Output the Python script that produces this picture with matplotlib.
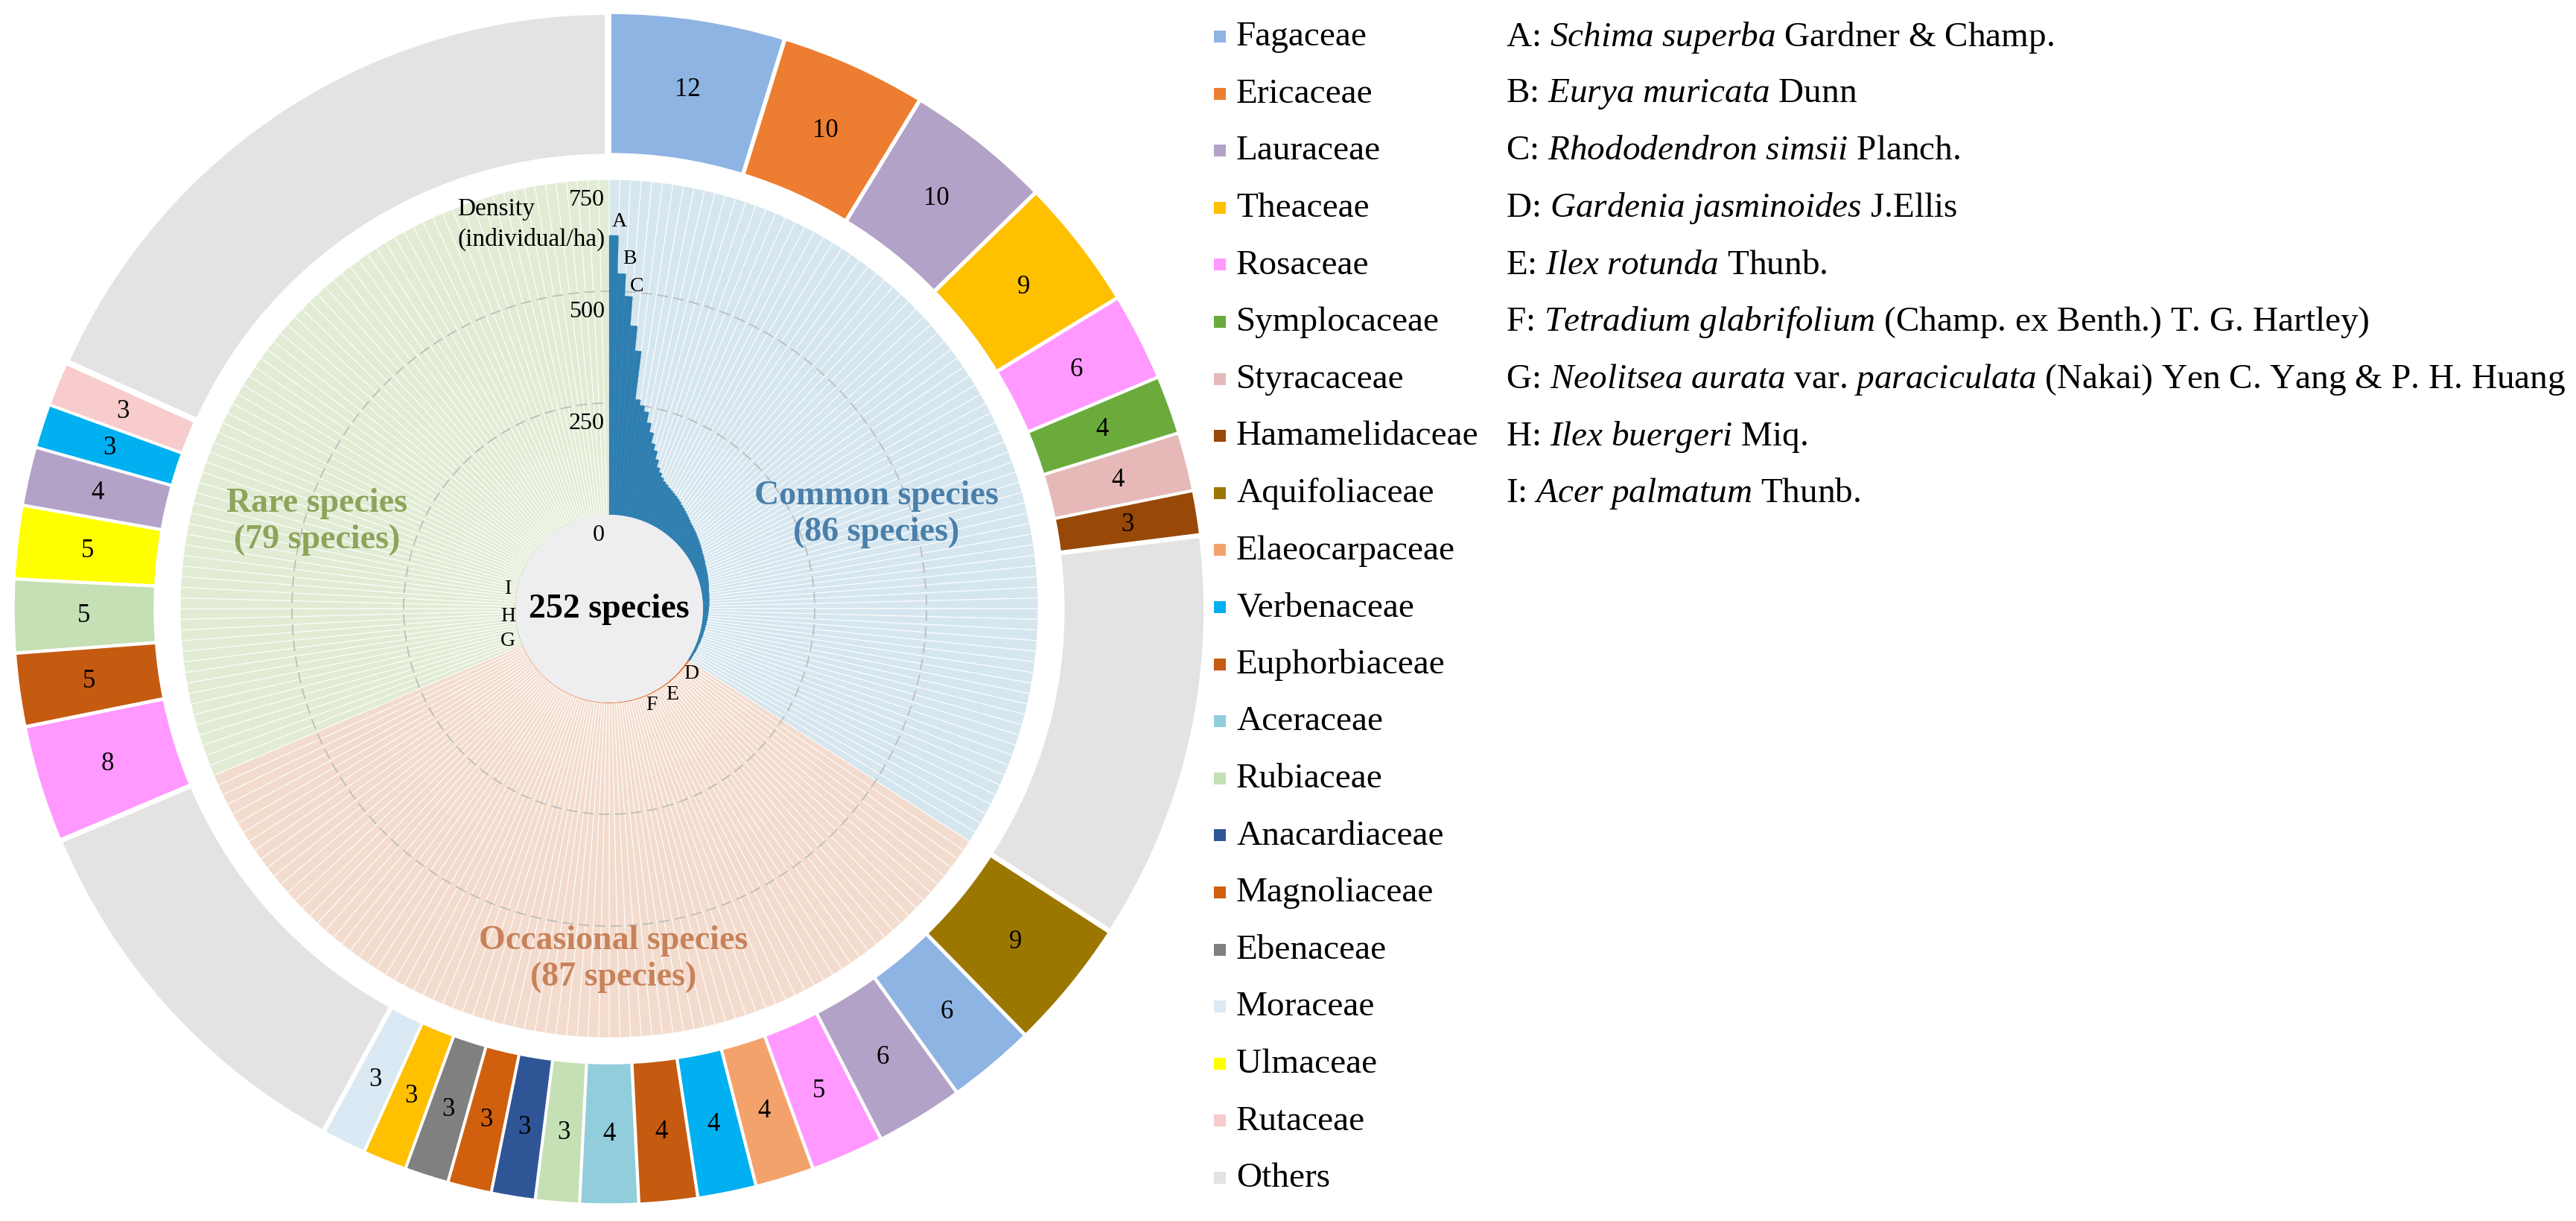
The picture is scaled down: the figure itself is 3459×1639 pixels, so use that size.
import numpy as np
import matplotlib
matplotlib.use('Agg')
from matplotlib import pyplot as plt
from matplotlib.patches import Circle
import matplotlib.transforms as mtransforms

plt.rcParams['font.family'] = 'Liberation Serif'
plt.rcParams['mathtext.fontset'] = 'custom'
plt.rcParams['mathtext.rm'] = 'Liberation Serif'
plt.rcParams['mathtext.it'] = 'Liberation Serif:italic'

# species density (individual/ha), sorted, clockwise from the top
common_density = [625, 540, 490, 425, 370, 262, 250, 238, 215, 195,
                  172, 158, 140, 124, 115, 106, 100, 96, 92, 89,
                  86, 83, 80, 77, 73, 70, 67, 64, 61, 58,
                  55, 53, 51, 49, 47, 45, 43, 41, 39, 37,
                  35, 33, 32, 30, 29, 27, 26, 25, 24, 23,
                  22, 21, 20, 19, 18, 17, 16, 16, 15, 15,
                  14, 14, 13, 13, 12, 12, 11, 11, 10, 10,
                  9, 9, 8, 8, 8, 7, 7, 7, 6, 6,
                  6, 6, 5, 5, 5, 5]
occasional_density = [3.9, 3.8, 3.6, 3.5, 3.4, 3.3, 3.2, 3.1, 3.0, 2.9,
                      2.9, 2.8, 2.7, 2.7, 2.6, 2.5, 2.5, 2.4, 2.4, 2.3,
                      2.3, 2.2, 2.2, 2.1, 2.1, 2.0, 2.0, 2.0, 1.9, 1.9,
                      1.9, 1.8, 1.8, 1.8, 1.7, 1.7, 1.7, 1.6, 1.6, 1.6,
                      1.6, 1.5, 1.5, 1.5, 1.5, 1.4, 1.4, 1.4, 1.4, 1.4,
                      1.3, 1.3, 1.3, 1.3, 1.3, 1.2, 1.2, 1.2, 1.2, 1.2,
                      1.2, 1.1, 1.1, 1.1, 1.1, 1.1, 1.1, 1.1, 1.1, 1.0,
                      1.0, 1.0, 1.0, 1.0, 1.0, 1.0, 1.0, 1.0, 1.0, 1.0,
                      1.0, 1.0, 1.0, 1.0, 1.0, 1.0, 1.0]
rare_density = [0.9, 0.9, 0.9, 0.9, 0.9, 0.9, 0.8, 0.8, 0.8, 0.8,
                0.8, 0.8, 0.8, 0.8, 0.7, 0.7, 0.7, 0.7, 0.7, 0.7,
                0.7, 0.7, 0.7, 0.7, 0.6, 0.6, 0.6, 0.6, 0.6, 0.6,
                0.6, 0.6, 0.6, 0.6, 0.6, 0.5, 0.5, 0.5, 0.5, 0.5,
                0.5, 0.5, 0.5, 0.5, 0.5, 0.5, 0.5, 0.4, 0.4, 0.4,
                0.4, 0.4, 0.4, 0.4, 0.4, 0.4, 0.4, 0.4, 0.4, 0.4,
                0.4, 0.4, 0.4, 0.4, 0.4, 0.3, 0.3, 0.3, 0.3, 0.3,
                0.3, 0.3, 0.3, 0.3, 0.3, 0.3, 0.3, 0.3, 0.3]

# outer ring: number of species per family within each group
ring_families = ['Fagaceae', 'Ericaceae', 'Lauraceae', 'Theaceae', 'Rosaceae',
                 'Symplocaceae', 'Styracaceae', 'Hamamelidaceae', 'Others',
                 'Aquifoliaceae', 'Fagaceae', 'Lauraceae', 'Rosaceae', 'Elaeocarpaceae',
                 'Verbenaceae', 'Euphorbiaceae', 'Aceraceae', 'Rubiaceae', 'Anacardiaceae',
                 'Magnoliaceae', 'Ebenaceae', 'Theaceae', 'Moraceae', 'Others',
                 'Rosaceae', 'Euphorbiaceae', 'Rubiaceae', 'Ulmaceae', 'Lauraceae',
                 'Verbenaceae', 'Rutaceae', 'Others']
ring_counts = [12, 10, 10, 9, 6, 4, 4, 3, 28,
               9, 6, 6, 5, 4, 4, 4, 4, 3, 3, 3, 3, 3, 3, 27,
               8, 5, 5, 5, 4, 3, 3, 46]

legend_families = ['Fagaceae', 'Ericaceae', 'Lauraceae', 'Theaceae', 'Rosaceae',
                   'Symplocaceae', 'Styracaceae', 'Hamamelidaceae', 'Aquifoliaceae',
                   'Elaeocarpaceae', 'Verbenaceae', 'Euphorbiaceae', 'Aceraceae',
                   'Rubiaceae', 'Anacardiaceae', 'Magnoliaceae', 'Ebenaceae',
                   'Moraceae', 'Ulmaceae', 'Rutaceae', 'Others']
family_colors = {'Fagaceae': '#8EB4E3', 'Ericaceae': '#ED7D31', 'Lauraceae': '#B3A2C7',
                 'Theaceae': '#FFC000', 'Rosaceae': '#FF99FF', 'Symplocaceae': '#6AAB3C',
                 'Styracaceae': '#E6B9B8', 'Hamamelidaceae': '#984807',
                 'Aquifoliaceae': '#9C7700', 'Elaeocarpaceae': '#F4A26B',
                 'Verbenaceae': '#00B0F0', 'Euphorbiaceae': '#C55A11',
                 'Aceraceae': '#92CDDC', 'Rubiaceae': '#C5E0B4',
                 'Anacardiaceae': '#2F5597', 'Magnoliaceae': '#D0600E',
                 'Ebenaceae': '#808080', 'Moraceae': '#DAE9F4', 'Ulmaceae': '#FFFF00',
                 'Rutaceae': '#F8CBCC', 'Others': '#E4E2E3'}

species_keys = ['A', 'B', 'C', 'D', 'E', 'F', 'G', 'H', 'I']
species_names = [r'$\mathit{Schima\ superba}$ Gardner & Champ.',
                 r'$\mathit{Eurya\ muricata}$ Dunn',
                 r'$\mathit{Rhododendron\ simsii}$ Planch.',
                 r'$\mathit{Gardenia\ jasminoides}$ J.Ellis',
                 r'$\mathit{Ilex\ rotunda}$ Thunb.',
                 r'$\mathit{Tetradium\ glabrifolium}$ (Champ. ex Benth.) T. G. Hartley)',
                 r'$\mathit{Neolitsea\ aurata}$ var. $\mathit{paraciculata}$ (Nakai) Yen C. Yang & P. H. Huang',
                 r'$\mathit{Ilex\ buergeri}$ Miq.',
                 r'$\mathit{Acer\ palmatum}$ Thunb.']
# marker angle (deg) and radius (density units) for the letters
species_angle = [1.5, 3.3, 4.9, 128, 143.5, 156, 252.8, 266, 281.7]
species_r = [657, 576, 515, 23, 28, 25, 27, 17, 20]

W, H = 3459, 1640
fig = plt.figure(figsize=(W / 100, H / 100), dpi=100)
ax = fig.add_axes([0, 0, 1, 1])

cx, cy = 818, H - 818
R_out = 792
colors = [family_colors[f] for f in ring_families]
wedges, _ = ax.pie(ring_counts, colors=colors, startangle=90, counterclock=False,
                   radius=R_out, center=(cx, cy), explode=[8] * len(ring_counts),
                   wedgeprops=dict(width=190, edgecolor='white', linewidth=2.5))
ax.set_xlim(0, W)
ax.set_ylim(0, H)
ax.axis('off')

# centre disc
ax.add_patch(Circle((cx, cy), 126, facecolor='#EEEEF0', edgecolor='none'))

for w, fam, cnt in zip(wedges, ring_families, ring_counts):
    if fam == 'Others':
        continue
    t = np.deg2rad((w.theta1 + w.theta2) / 2)
    rm = R_out - 95
    ax.text(w.center[0] + rm * np.cos(t), w.center[1] + rm * np.sin(t), str(cnt),
            ha='center', va='center', fontsize=25)

# legend
for i, fam in enumerate(legend_families):
    y = H - (50 + i * 76.6)
    ax.scatter(1638, y, s=130, marker='s', color=family_colors[fam], linewidths=0)
    ax.text(1660, y, fam, va='center', fontsize=34)
for i, (k, name) in enumerate(zip(species_keys, species_names)):
    y = H - (50 + i * 76.6)
    ax.text(2022, y, k + ': ' + name, va='center', fontsize=34)

# inner circular bar chart
R_ax = 576
pax = fig.add_axes([(cx - R_ax) / W, (cy - R_ax) / H, 2 * R_ax / W, 2 * R_ax / H],
                   projection='polar')
pax.set_theta_zero_location('N')
pax.set_theta_direction(-1)
pax.set_facecolor('none')
for sp in pax.spines.values():
    sp.set_color('none')
    sp.set_linewidth(0)

density = common_density + occasional_density + rare_density
n = len(density)
width = 2 * np.pi / n
theta = (np.arange(n) + 0.5) * width
n_c, n_o = len(common_density), len(occasional_density)
bg_colors = (['#D6E6EF'] * n_c + ['#F3DCCE'] * n_o + ['#E2ECD5'] * len(rare_density))
pax.bar(theta, 750, width=width, bottom=0, color=bg_colors, edgecolor='white',
        linewidth=0.7, zorder=1)
pax.bar(theta[:n_c], common_density, width=width, color='#2E7EB0', edgecolor='#2E7EB0',
        linewidth=0.3, zorder=2)
pax.bar(theta[n_c:n_c + n_o], occasional_density, width=width, color='#E0703A',
        linewidth=0, zorder=2)
pax.bar(theta[n_c + n_o:], rare_density, width=width, color='#70AD47',
        linewidth=0, zorder=2)
pax.set_ylim(0, 750)
pax.set_rorigin(-210)
pax.set_xticks([])
pax.set_yticks([250, 500])
pax.set_yticklabels([])
pax.set_axisbelow('line')
pax.yaxis.grid(True, color='#BDBDBD', linewidth=1.3, linestyle=(0, (8, 4)))
pax.xaxis.grid(False)

off = mtransforms.ScaledTranslation(-0.06, -0.26, fig.dpi_scale_trans)
for v in [0, 250, 500, 750]:
    pax.text(0, v, str(v), ha='right', va='center', fontsize=23,
             transform=pax.transData + off, zorder=5)
pax.text(614, H - 281, 'Density', ha='left', va='center', fontsize=24,
         transform=ax.transData, zorder=5)
pax.text(614, H - 321, '(individual/ha)', ha='left', va='center', fontsize=24,
         transform=ax.transData, zorder=5)

pax.text(0.5, 0.5, '252 species', transform=pax.transAxes, ha='center', va='center',
         fontsize=33, fontweight='bold', zorder=4)

pax.text(np.deg2rad(70.4), 425, 'Common species\n(%d species)' % n_c,
         ha='center', va='center', fontsize=33, fontweight='bold', color='#4A7FAA', zorder=4)
pax.text(np.deg2rad(179.3), 572, 'Occasional species\n(%d species)' % n_o,
         ha='center', va='center', fontsize=33, fontweight='bold', color='#C8825A', zorder=4)
pax.text(np.deg2rad(286.7), 473, 'Rare species\n(%d species)' % len(rare_density),
         ha='center', va='center', fontsize=33, fontweight='bold', color='#8CA55A', zorder=4)

for k, a, r in zip(species_keys, species_angle, species_r):
    pax.text(np.deg2rad(a), r, k, ha='center', va='center', fontsize=20, zorder=5)

fig.savefig('out.png', dpi=100, facecolor='white')
